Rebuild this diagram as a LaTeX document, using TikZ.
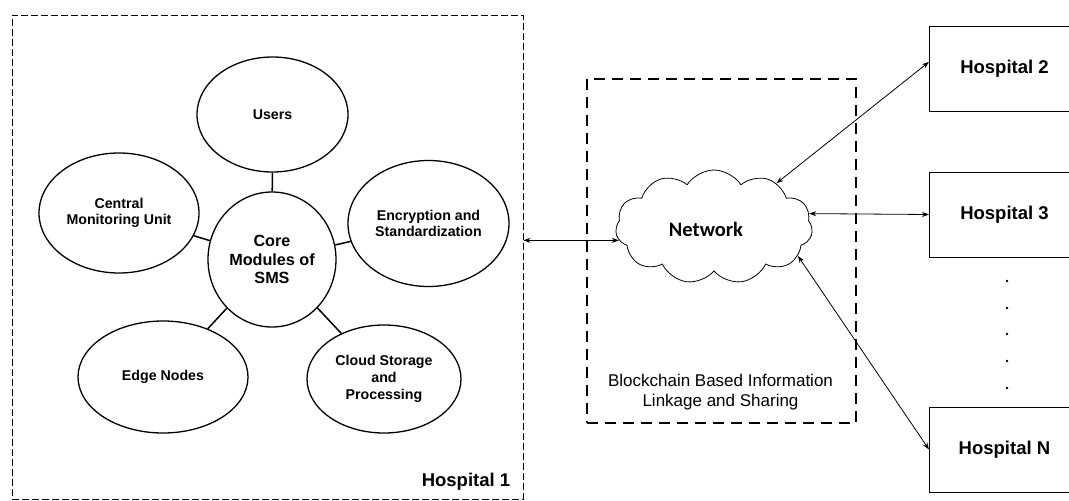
\documentclass[tikz,border=0pt]{standalone}
\usepackage{fontspec}
\setmainfont{Liberation Sans}
\newfontfamily\calibfont{Carlito}
\usetikzlibrary{shapes.geometric,shapes.symbols,arrows.meta}
\begin{document}
\begin{tikzpicture}[x=1pt,y=-1pt,
  module/.style={ellipse,draw,line width=1.3pt,inner sep=0pt,align=center,
    font=\fontsize{14.2}{16.7}\selectfont\bfseries},
  hospbox/.style={rectangle,draw,line width=0.9pt,minimum width=150pt,
    minimum height=85pt,inner sep=0pt,font=\fontsize{18.5}{22}\selectfont\bfseries},
  link/.style={line width=1.5pt},
  biarrow/.style={line width=0.8pt,{Stealth[length=7pt,width=5pt]}-{Stealth[length=7pt,width=5pt]}},
]
\useasboundingbox (0,0) rectangle (1069,501);

% Hospital 1 frame
\node[draw,dashed,dash pattern=on 7pt off 3pt,line width=0.8pt,minimum width=511pt,
  minimum height=484pt,inner sep=0pt] (h1) at (267.5,257) {};
\node[font=\fontsize{18.5}{22}\selectfont\bfseries] (h1label) at (466,482) {Hospital 1};

% core modules
\node[module,minimum width=128pt,minimum height=135pt,font=\fontsize{16.2}{18.3}\selectfont\bfseries]
  (core) at (272,259.5) {Core\\Modules of\\SMS};
\node[module,minimum width=151pt,minimum height=115pt] (users) at (272.5,114.5) {Users};
\node[module,minimum width=160pt,minimum height=120pt] (cmu) at (119,213) {Central\\Monitoring Unit};
\node[module,minimum width=161pt,minimum height=126pt] (enc) at (428.5,223.5) {Encryption and\\Standardization};
\node[module,minimum width=170pt,minimum height=112pt] (edge) at (163,377) {Edge Nodes};
\node[module,minimum width=154pt,minimum height=108pt] (cloudst) at (384,379) {Cloud Storage\\and\\Processing};

\draw[link] (core) -- (users);
\draw[link] (core) -- (cmu);
\draw[link] (core) -- (enc);
\draw[link] (core) -- (edge);
\draw[link] (core) -- (cloudst);

% blockchain network frame
\node[draw,line width=2.6pt,dash pattern=on 11pt off 7pt,minimum width=269pt,
  minimum height=344pt,inner sep=0pt] (chain) at (721.5,251) {};
\node[align=center,font=\fontsize{17}{20.5}\selectfont] (chainlabel) at (720.5,392)
  {Blockchain Based Information\\Linkage and Sharing};

% network cloud
\node[cloud,draw,cloud puffs=11,cloud puff arc=115,aspect=1.75,minimum width=197pt,
  minimum height=114pt,inner sep=0pt,line width=0.8pt] (net) at (714,227) {};
\node[font=\fontsize{20.5}{24}\selectfont\calibfont\bfseries] (netlabel) at (706,229) {Network};

% other hospitals
\node[hospbox,anchor=west] (h2) at (929,68.5) {Hospital 2};
\node[hospbox,anchor=west] (h3) at (929,214.5) {Hospital 3};
\node[hospbox,anchor=west] (hn) at (929,449.5) {Hospital N};
\foreach \yy in {281,308,334,361,388} \fill (1007,\yy) circle (1.4pt);

% links
\draw[biarrow] (h1.east |- net.188) -- (net.188);
\draw[biarrow] (h2.175) -- (net.35);
\draw[biarrow] (h3.west) -- (net.8);
\draw[biarrow] (hn.west) -- (net.-19);
\end{tikzpicture}
\end{document}
